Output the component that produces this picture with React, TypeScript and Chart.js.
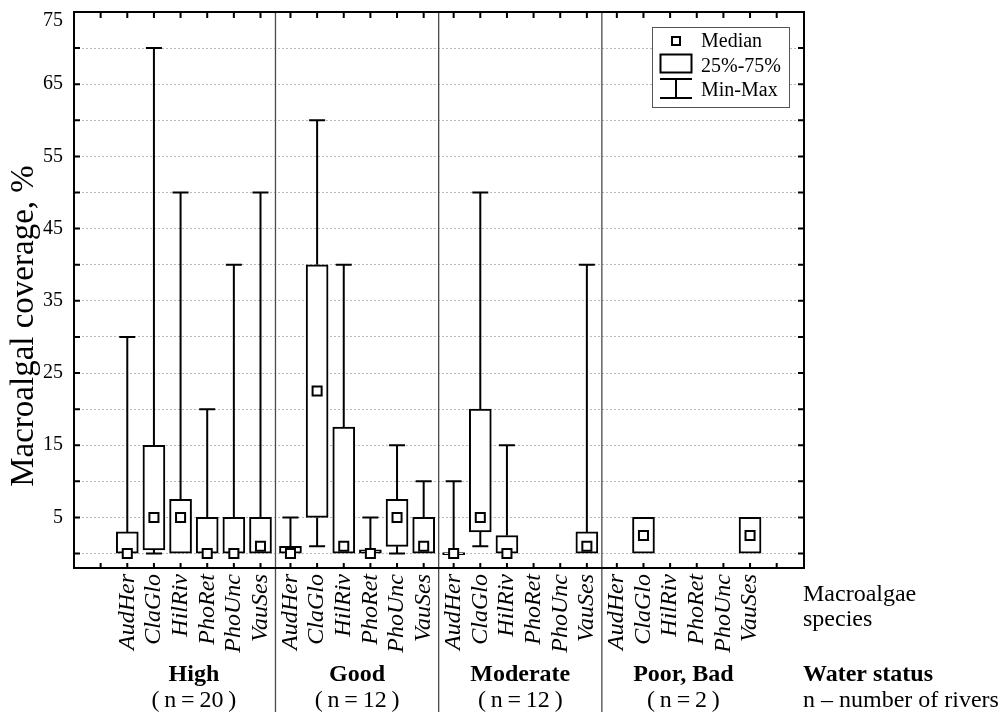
import React, { useEffect, useRef } from 'react';
import { Chart, registerables } from 'chart.js';

Chart.register(...registerables);

const species = ['AudHer', 'ClaGlo', 'HilRiv', 'PhoRet', 'PhoUnc', 'VauSes'];
const groups = ['High', 'Good', 'Moderate', 'Poor, Bad'];
const groupN = ['20', '12', '12', '2'];

// order inside each group: AudHer, ClaGlo, HilRiv, PhoRet, PhoUnc, VauSes
const minVals = [
  0, 0, 0, 0, 0, 0,
  0, 1, 0, 0, 0, 0,
  0, 1, 0, null, null, 0,
  null, 0, null, null, null, 0,
];
const q1Vals = [
  0, 0.5, 0, 0, 0, 0,
  0, 5, 0, 0, 1, 0,
  0, 3, 0, null, null, 0,
  null, 0, null, null, null, 0,
];
const medianVals = [
  0, 5, 5, 0, 0, 1,
  0, 22.5, 1, 0, 5, 1,
  0, 5, 0, null, null, 1,
  null, 2.5, null, null, null, 2.5,
];
const q3Vals = [
  3, 15, 7.5, 5, 5, 5,
  1, 40, 17.5, 0.5, 7.5, 5,
  0, 20, 2.5, null, null, 3,
  null, 5, null, null, null, 5,
];
const maxVals = [
  30, 70, 50, 20, 40, 50,
  5, 60, 40, 5, 15, 10,
  10, 50, 15, null, null, 40,
  null, 5, null, null, null, 5,
];

const yTickValues = [0, 5, 10, 15, 20, 25, 30, 35, 40, 45, 50, 55, 60, 65, 70, 75];
const yLabelValues = [5, 15, 25, 35, 45, 55, 65, 75];
const legendLabels = ['Median', '25%-75%', 'Min-Max'];
const speciesAxisTitle = ['Macroalgae', 'species'];
const statusAxisTitle = ['Water status', 'n \u2013 number of rivers'];
const yAxisTitle = 'Macroalgal coverage, %';

const SERIF = '"Liberation Serif", "Times New Roman", serif';
const GAP = 1.125;
const STEP = species.length - 1 + GAP;
const pos = (g: number, s: number) => g * STEP + s;
const XMIN = -2;
const XMAX = 25.4;

const xTicks: number[] = [];
const xTickLabels: string[] = [];
xTicks.push(pos(0, -1));
xTickLabels.push('');
groups.forEach((_, g) => {
  species.forEach((sp, s) => {
    xTicks.push(pos(g, s));
    xTickLabels.push(sp);
  });
});
xTicks.push(pos(groups.length - 1, species.length));
xTickLabels.push('');

const idxOf = (g: number, s: number) => g * species.length + s;

const extrasPlugin = {
  id: 'extras',
  beforeDatasetsDraw(chart: any) {
    const { ctx, chartArea: a, scales } = chart;
    const x = scales.x;
    const y = scales.y;
    ctx.save();
    // group separators
    ctx.strokeStyle = '#4a4a4a';
    ctx.lineWidth = 1.3;
    for (let g = 1; g < groups.length; g++) {
      const v = (pos(g - 1, species.length - 1) + pos(g, 0)) / 2;
      const px = x.getPixelForValue(v);
      ctx.beginPath();
      ctx.moveTo(px, a.top);
      ctx.lineTo(px, chart.height);
      ctx.stroke();
    }
    // whiskers
    ctx.strokeStyle = '#000';
    ctx.lineWidth = 2;
    groups.forEach((_, g) => {
      species.forEach((__, s) => {
        const i = idxOf(g, s);
        const mx = maxVals[i];
        const mn = minVals[i];
        const lo = q1Vals[i];
        const hi = q3Vals[i];
        if (mx === null || mn === null || lo === null || hi === null) return;
        const px = x.getPixelForValue(pos(g, s));
        ctx.beginPath();
        if (mx > hi) {
          ctx.moveTo(px, y.getPixelForValue(mx));
          ctx.lineTo(px, y.getPixelForValue(hi));
          ctx.moveTo(px - 8, y.getPixelForValue(mx));
          ctx.lineTo(px + 8, y.getPixelForValue(mx));
        }
        if (mn < lo) {
          ctx.moveTo(px, y.getPixelForValue(lo));
          ctx.lineTo(px, y.getPixelForValue(mn));
          ctx.moveTo(px - 8, y.getPixelForValue(mn));
          ctx.lineTo(px + 8, y.getPixelForValue(mn));
        }
        ctx.stroke();
      });
    });
    ctx.restore();
  },
  afterDatasetsDraw(chart: any) {
    const { ctx, chartArea: a, scales } = chart;
    const x = scales.x;
    const y = scales.y;
    ctx.save();
    // frame
    ctx.strokeStyle = '#000';
    ctx.lineWidth = 2;
    ctx.strokeRect(a.left, a.top, a.right - a.left, a.bottom - a.top);
    // inner ticks
    ctx.beginPath();
    xTicks.forEach((v) => {
      const px = x.getPixelForValue(v);
      ctx.moveTo(px, a.top);
      ctx.lineTo(px, a.top + 6);
      ctx.moveTo(px, a.bottom);
      ctx.lineTo(px, a.bottom - 5);
    });
    yTickValues.forEach((v) => {
      const py = y.getPixelForValue(v);
      ctx.moveTo(a.left, py);
      ctx.lineTo(a.left + 6, py);
      ctx.moveTo(a.right, py);
      ctx.lineTo(a.right - 6, py);
    });
    ctx.stroke();

    // legend
    const L = { x: 652.5, y: 27.5, w: 137, h: 80 };
    ctx.fillStyle = '#fff';
    ctx.fillRect(L.x, L.y, L.w, L.h);
    ctx.strokeStyle = '#555';
    ctx.lineWidth = 1;
    ctx.strokeRect(L.x, L.y, L.w, L.h);
    ctx.strokeStyle = '#000';
    ctx.lineWidth = 2;
    ctx.strokeRect(672, 37, 8, 8);
    ctx.strokeRect(660.5, 54.5, 31, 18);
    ctx.beginPath();
    ctx.moveTo(660, 79);
    ctx.lineTo(692, 79);
    ctx.moveTo(676, 79);
    ctx.lineTo(676, 98);
    ctx.moveTo(660, 98);
    ctx.lineTo(692, 98);
    ctx.stroke();
    ctx.fillStyle = '#000';
    ctx.font = `20px ${SERIF}`;
    ctx.textAlign = 'left';
    ctx.textBaseline = 'alphabetic';
    ctx.fillText(legendLabels[0], 701, 47);
    ctx.fillText(legendLabels[1], 701, 71.5);
    ctx.fillText(legendLabels[2], 701, 95.5);

    // group labels
    ctx.textAlign = 'center';
    groups.forEach((gName, g) => {
      const cx = x.getPixelForValue(pos(g, (species.length - 1) / 2));
      ctx.font = `bold 24px ${SERIF}`;
      ctx.fillText(gName, cx, 681);
      ctx.font = `24px ${SERIF}`;
      ctx.fillText(`(\u2009n\u2009=\u2009${groupN[g]}\u2009)`, cx, 707);
    });

    // right-side axis descriptions
    ctx.textAlign = 'left';
    const rx = a.right - 1;
    ctx.font = `24px ${SERIF}`;
    ctx.fillText(speciesAxisTitle[0], rx, 601);
    ctx.fillText(speciesAxisTitle[1], rx, 626);
    ctx.font = `bold 24px ${SERIF}`;
    ctx.fillText(statusAxisTitle[0], rx, 681);
    ctx.font = `24px ${SERIF}`;
    ctx.fillText(statusAxisTitle[1], rx, 707);

    // y axis title
    ctx.save();
    ctx.translate(33, (a.top + a.bottom) / 2 + 36);
    ctx.rotate(-Math.PI / 2);
    ctx.textAlign = 'center';
    ctx.textBaseline = 'alphabetic';
    ctx.font = `33px ${SERIF}`;
    ctx.fillText(yAxisTitle, 0, 0);
    ctx.restore();

    ctx.restore();
  },
};

export default function App() {
  const ref = useRef<HTMLCanvasElement | null>(null);

  useEffect(() => {
    if (!ref.current) return;
    const boxData: any[] = [];
    const medData: any[] = [];
    groups.forEach((_, g) => {
      species.forEach((__, s) => {
        const i = idxOf(g, s);
        if (q1Vals[i] !== null && q3Vals[i] !== null) {
          boxData.push({ x: pos(g, s), y: [q1Vals[i], q3Vals[i]] });
        }
        if (medianVals[i] !== null) {
          medData.push({ x: pos(g, s), y: medianVals[i] });
        }
      });
    });

    const chart = new Chart(ref.current, {
      type: 'bar',
      data: {
        datasets: [
          {
            type: 'bar',
            label: '25%-75%',
            data: boxData,
            backgroundColor: '#fff',
            borderColor: '#000',
            borderWidth: 2,
            borderSkipped: false,
            barThickness: 22,
            minBarLength: 2,
            order: 2,
          } as any,
          {
            type: 'scatter',
            label: 'Median',
            data: medData,
            pointStyle: 'rect',
            pointRadius: 6.4,
            pointBackgroundColor: '#fff',
            pointBorderColor: '#000',
            pointBorderWidth: 2,
            order: 1,
          } as any,
        ],
      },
      options: {
        responsive: false,
        animation: false,
        events: [],
        layout: { padding: { left: 0, right: 199, top: 12, bottom: 0 } },
        plugins: { legend: { display: false }, tooltip: { enabled: false } },
        scales: {
          x: {
            type: 'linear',
            position: 'bottom',
            min: XMIN,
            max: XMAX,
            bounds: 'data',
            offset: false,
            afterBuildTicks: (s: any) => {
              s.ticks = xTicks.map((v) => ({ value: v }));
            },
            afterFit: (s: any) => {
              s.height = 144;
              s.paddingLeft = 0;
              s.paddingRight = 0;
            },
            grid: { display: false, drawTicks: false, offset: false },
            border: { display: false },
            ticks: {
              autoSkip: false,
              minRotation: 90,
              maxRotation: 90,
              padding: 6,
              color: '#000',
              font: { family: SERIF, style: 'italic', size: 24 },
              callback: (_v: any, index: number) => xTickLabels[index] ?? '',
            },
          },
          y: {
            type: 'linear',
            min: -2,
            max: 75,
            bounds: 'data',
            afterBuildTicks: (s: any) => {
              s.ticks = yTickValues.map((v) => ({ value: v }));
            },
            afterFit: (s: any) => {
              s.width = 74;
              s.paddingTop = 0;
              s.paddingBottom = 0;
            },
            grid: { color: '#b8b8b8', lineWidth: 1, drawTicks: false },
            border: { display: false, dash: [2, 2] },
            ticks: {
              autoSkip: false,
              padding: 11,
              color: '#000',
              font: { family: SERIF, size: 20, lineHeight: 0.85 },
              callback: (v: any) =>
                v === 75 ? ['', '75'] : yLabelValues.includes(v) ? String(v) : '',
            },
          },
        },
      } as any,
      plugins: [extrasPlugin],
    });
    return () => chart.destroy();
  }, []);

  return (
    <div style={{ position: 'fixed', left: 0, top: 0, width: 1003, height: 712, background: '#fff' }}>
      <canvas ref={ref} width={1003} height={712} style={{ display: 'block' }} />
    </div>
  );
}
